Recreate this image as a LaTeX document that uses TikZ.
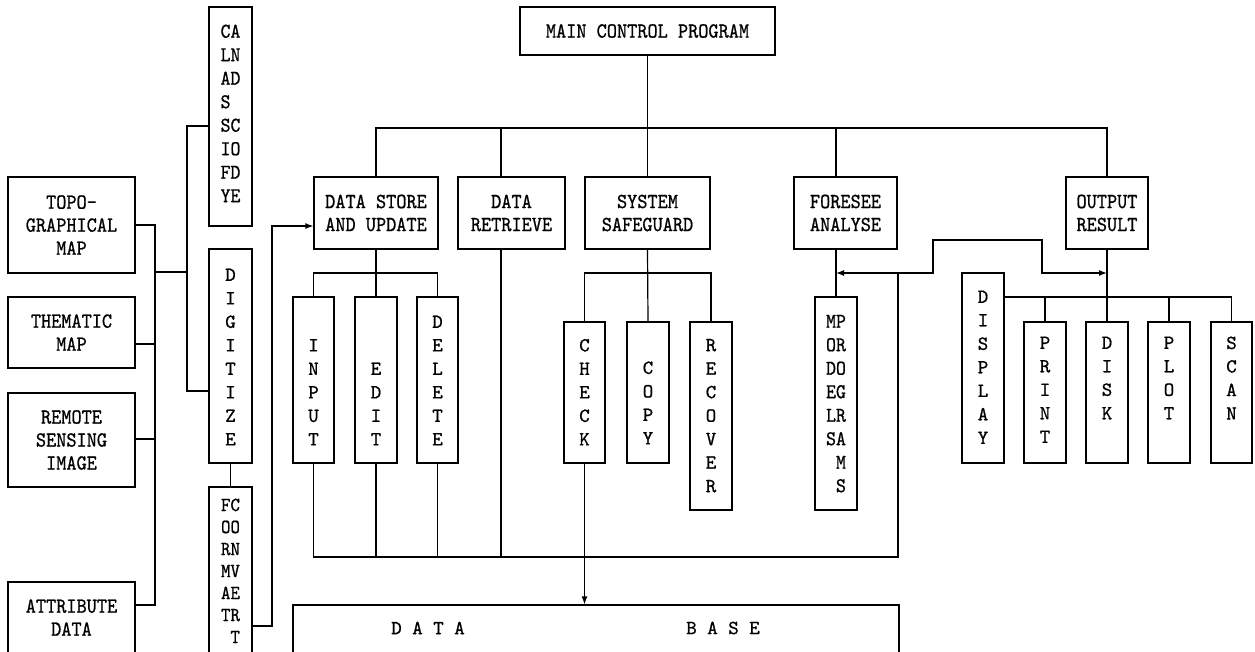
\documentclass[tikz,border=0pt]{standalone}
\usepackage{fontspec}
\newfontfamily\twfont[FakeBold=0.8]{lmmono10-regular.otf}
\newfontfamily\twnfont[FakeBold=0.8, FakeStretch=0.9]{lmmono10-regular.otf}
\usetikzlibrary{arrows.meta,calc}
\tikzset{
  bx/.style={draw, line width=1.2pt, inner sep=0pt},
  ln/.style={line width=1.2pt},
  lab/.style={font=\fontsize{21.5}{23}\selectfont\twnfont, align=center},
  dbl/.style={font=\fontsize{20}{23}\selectfont\twfont, align=center},
  vt/.style={font=\fontsize{20}{23.5}\selectfont\twfont, align=center, inner sep=0pt},
  vtt/.style={font=\fontsize{21}{23.5}\selectfont\twnfont, align=left, inner sep=0pt},
  arr/.style={-{Latex[length=8pt,width=6pt]}},
  arrb/.style={{Latex[length=8pt,width=6pt]}-{Latex[length=8pt,width=6pt]}},
}
\newcommand\mkbox[6]{\node[bx, minimum width={#4-#2}, minimum height={#5-#3}, #6] (#1) at ({(#2+#4)/2},{(#3+#5)/2})}
\begin{document}
\begin{tikzpicture}[x=1pt,y=-1pt]
\useasboundingbox (0,0) rectangle (1255,651);
\clip (0,0) rectangle (1255,651);
% boxes
\mkbox{main}{520}{7}{775}{55}{lab}{MAIN CONTROL PROGRAM};
\mkbox{dsu}{314}{177}{438}{249}{lab}{DATA STORE\\AND UPDATE};
\mkbox{dr}{458}{177}{565}{249}{lab}{DATA\\RETRIEVE};
\mkbox{ss}{585}{177}{710}{249}{lab}{SYSTEM\\SAFEGUARD};
\mkbox{fa}{794}{177}{897}{249}{lab}{FORESEE\\ANALYSE};
\mkbox{out}{1066}{177}{1148}{249}{lab}{OUTPUT\\RESULT};
\mkbox{inp}{293}{297}{334}{463}{}{};
\mkbox{edt}{355}{297}{397}{463}{}{};
\mkbox{del}{417}{297}{458}{463}{}{};
\mkbox{chk}{564}{322}{605}{463}{}{};
\mkbox{cpy}{627}{322}{669}{463}{}{};
\mkbox{rec}{690}{322}{732}{510}{}{};
\mkbox{mod}{815}{297}{857}{510}{}{};
\mkbox{disp}{962}{273}{1004}{463}{}{};
\mkbox{prt}{1024}{322}{1066}{463}{}{};
\mkbox{dsk}{1086}{322}{1128}{463}{}{};
\mkbox{plt}{1148}{322}{1190}{463}{}{};
\mkbox{scn}{1211}{322}{1252}{463}{}{};
\mkbox{topo}{8}{177}{135}{273}{lab}{TOPO-\\GRAPHICAL\\MAP};
\mkbox{them}{8}{297}{135}{368}{lab}{THEMATIC\\MAP};
\mkbox{rem}{8}{393}{135}{487}{lab}{REMOTE\\SENSING\\IMAGE};
\mkbox{attr}{8}{582}{135}{653}{lab}{ATTRIBUTE\\DATA};
\mkbox{cls}{209}{7}{252}{226}{}{};
\mkbox{dig}{209}{249}{252}{463}{}{};
\mkbox{fmt}{209}{487}{252}{656}{}{};
\mkbox{db}{293}{605}{899}{656}{}{};
% texts in vertical boxes
\node[vt, anchor=south] (inp-t) at ($(inp.south)+(0,-18)$) {I\\N\\P\\U\\T};
\node[vt, anchor=south] (edt-t) at ($(edt.south)+(0,-18)$) {E\\D\\I\\T};
\node[vt, anchor=south] (del-t) at ($(del.south)+(0,-18)$) {D\\E\\L\\E\\T\\E};
\node[vt, anchor=south] (chk-t) at ($(chk.south)+(0,-18)$) {C\\H\\E\\C\\K};
\node[vt, anchor=south] (cpy-t) at ($(cpy.south)+(0,-19)$) {C\\O\\P\\Y};
\node[vt, anchor=south] (rec-t) at ($(rec.south)+(0,-18)$) {R\\E\\C\\O\\V\\E\\R};
\node[vtt, anchor=south] (mod-t) at ($(mod.south)+(0,-18)$) {MP\\OR\\DO\\EG\\LR\\SA\\\hphantom{M}M\\\hphantom{M}S};
\node[vt, anchor=north] (disp-t) at ($(disp.north)+(0,18)$) {D\\I\\S\\P\\L\\A\\Y};
\node[vt, anchor=north] (prt-t) at ($(prt.north)+(0,15)$) {P\\R\\I\\N\\T};
\node[vt, anchor=north] (dsk-t) at ($(dsk.north)+(0,15)$) {D\\I\\S\\K};
\node[vt, anchor=north] (plt-t) at ($(plt.north)+(0,15)$) {P\\L\\O\\T};
\node[vt, anchor=north] (scn-t) at ($(scn.north)+(0,15)$) {S\\C\\A\\N};
\node[vtt, anchor=north] (cls-t) at ($(cls.north)+(0,18)$) {CA\\LN\\AD\\S\\SC\\IO\\FD\\YE};
\node[vt, anchor=south] (dig-t) at ($(dig.south)+(0,-18)$) {D\\I\\G\\I\\T\\I\\Z\\E};
\node[vtt, anchor=north, font=\fontsize{20}{22}\selectfont\twnfont] (fmt-t) at ($(fmt.north)+(0,12)$) {FC\\OO\\RN\\MV\\AE\\TR\\\hphantom{T}T};
\node[dbl] (db-a) at (428,628) {D A T A};
\node[dbl] (db-b) at (723,628) {B A S E};
% helper coordinates
\coordinate (tb) at (0,128);
\coordinate (b1) at (0,273);
\coordinate (bb) at (0,557);
\coordinate (ob) at (0,297);
\coordinate (drx) at (501,0);
\coordinate (fx) at (836,0);
\coordinate (lk) at (898,273);
\coordinate (k1) at (933,240);
\coordinate (k2) at (1042,240);
\coordinate (lb1) at (155,225);
\coordinate (lb2) at (155,605);
\coordinate (lt) at (155,344);
\coordinate (lr) at (155,439);
\coordinate (lj) at (155,272);
\coordinate (cj) at (187,272);
\coordinate (c1) at (187,126);
\coordinate (c2) at (187,391);
\coordinate (f1) at (272,626);
\coordinate (f2) at (272,226);
% top level
\draw[ln] (main.south) -- (ss.north);
\draw[ln] (dsu.north) |- (out.north |- tb) -- (out.north);
\draw[ln] (drx |- tb) -- (drx |- dr.north);
\draw[ln] (fx |- tb) -- (fx |- fa.north);
% data store children
\draw[ln] (dsu.south) -- (edt.north);
\draw[ln] (inp.north) |- (del.north |- b1) -- (del.north);
% safeguard children
\draw[ln] (ss.south) -- (cpy.north);
\draw[ln] (chk.north) |- (rec.north |- b1) -- (rec.north);
% foresee
\draw[ln] (fx |- fa.south) -- (mod.north);
% output children
\draw[ln] (out.south) -- (dsk.north);
\draw[ln] (disp.east |- ob) -| (scn.north);
\draw[ln] (prt.north) -- (prt.north |- ob);
\draw[ln] (plt.north) -- (plt.north |- ob);
% link between foresee and output
\draw[ln, arrb] (fx |- b1) -- (k1 |- b1) -- (k1) -- (k2) -- (k2 |- b1) -- (out.south |- b1);
% bottom bus
\draw[ln] (inp.south) |- (lk |- bb) -- (lk);
\draw[ln] (edt.south) -- (edt.south |- bb);
\draw[ln] (del.south) -- (del.south |- bb);
\draw[ln] (drx |- dr.south) -- (drx |- bb);
\draw[ln] (chk.south) -- (chk.south |- bb);
\draw[ln, arr] (chk.south |- bb) -- (db.north -| chk.south);
% left side
\draw[ln] (topo.east |- lb1) -- (lb1) -- (lb2) -- (attr.east |- lb2);
\draw[ln] (them.east |- lt) -- (lt);
\draw[ln] (rem.east |- lr) -- (lr);
\draw[ln] (lj) -- (cj);
\draw[ln] (cls.west |- c1) -- (c1) -- (c2) -- (dig.west |- c2);
\draw[ln] (dig.south) -- (fmt.north);
\draw[ln, arr] (fmt.east |- f1) -- (f1) -- (f2) -- (dsu.west |- f2);
\end{tikzpicture}
\end{document}
